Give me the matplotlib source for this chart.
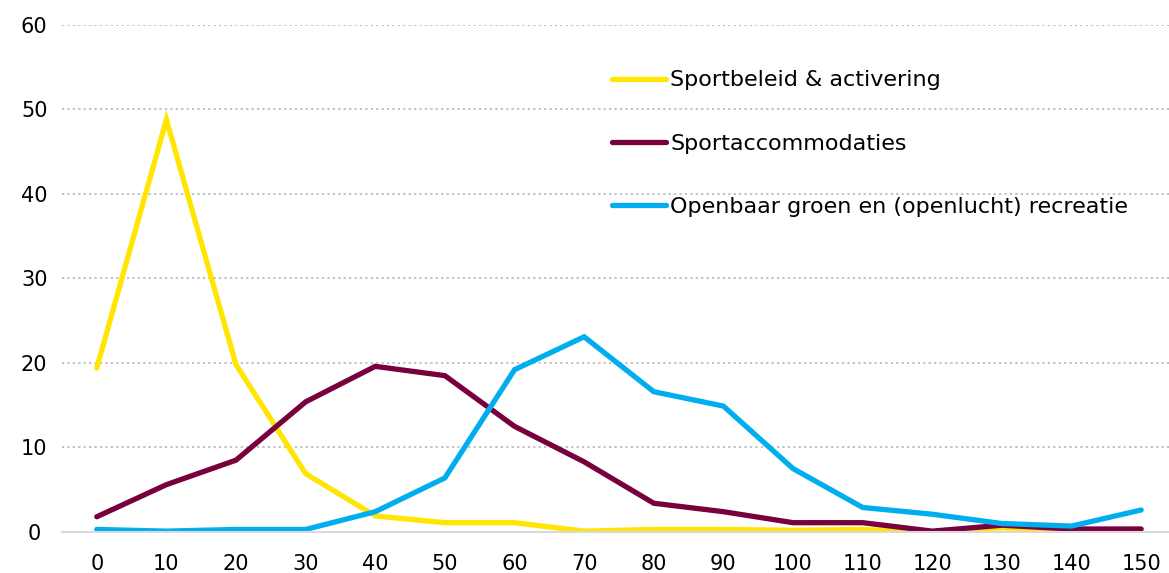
import matplotlib
matplotlib.use("Agg")
import matplotlib.pyplot as plt
import numpy as np

# Data
x = [0, 10, 20, 30, 40, 50, 60, 70, 80, 90, 100, 110, 120, 130, 140, 150]
sportbeleid = [19.4, 48.8, 19.8, 6.9, 1.9, 1.1, 1.1, 0.1, 0.3, 0.3, 0.2, 0.3, 0.0, 0.5, 0.2, 0.3]
accommodaties = [1.8, 5.6, 8.5, 15.4, 19.6, 18.5, 12.5, 8.3, 3.4, 2.4, 1.1, 1.1, 0.1, 0.8, 0.35, 0.35]
groen = [0.3, 0.1, 0.3, 0.3, 2.4, 6.4, 19.2, 23.1, 16.6, 14.9, 7.5, 2.9, 2.1, 1.0, 0.7, 2.6]
labels = ["Sportbeleid & activering", "Sportaccommodaties",
          "Openbaar groen en (openlucht) recreatie"]
colors = ["#FFE500", "#78003C", "#00AEEF"]

fig = plt.figure(figsize=(11.69, 5.73), dpi=100)
ax = fig.add_axes([0.053, 0.0716, 0.947, 0.8848])

for series, lab, col in zip([sportbeleid, accommodaties, groen], labels, colors):
    ax.plot(x, series, color=col, lw=3.8, label=lab, solid_capstyle="round",
            solid_joinstyle="miter")

ax.set_xlim(-5, 154)
ax.set_ylim(0, 60)
ax.set_xticks(x)
ax.set_yticks(np.arange(0, 61, 10))
ax.tick_params(length=0, labelsize=15)
ax.tick_params(axis="x", pad=16)
ax.tick_params(axis="y", pad=20)
for lab in ax.get_yticklabels():
    lab.set_horizontalalignment("center")

ax.grid(axis="y", color="#BBBBBB", linestyle=(0, (1.2, 1.8)), lw=1.3)
ax.set_axisbelow(True)
for s in ["top", "right", "left"]:
    ax.spines[s].set_visible(False)
ax.spines["bottom"].set_color("#D9D9D9")
ax.spines["bottom"].set_linewidth(1.5)

ax.legend(loc="upper left", bbox_to_anchor=(0.479, 0.95), frameon=False,
          fontsize=16, handlelength=2.4, handletextpad=0.2, labelspacing=1.95)

fig.savefig("out.png", dpi=100)
